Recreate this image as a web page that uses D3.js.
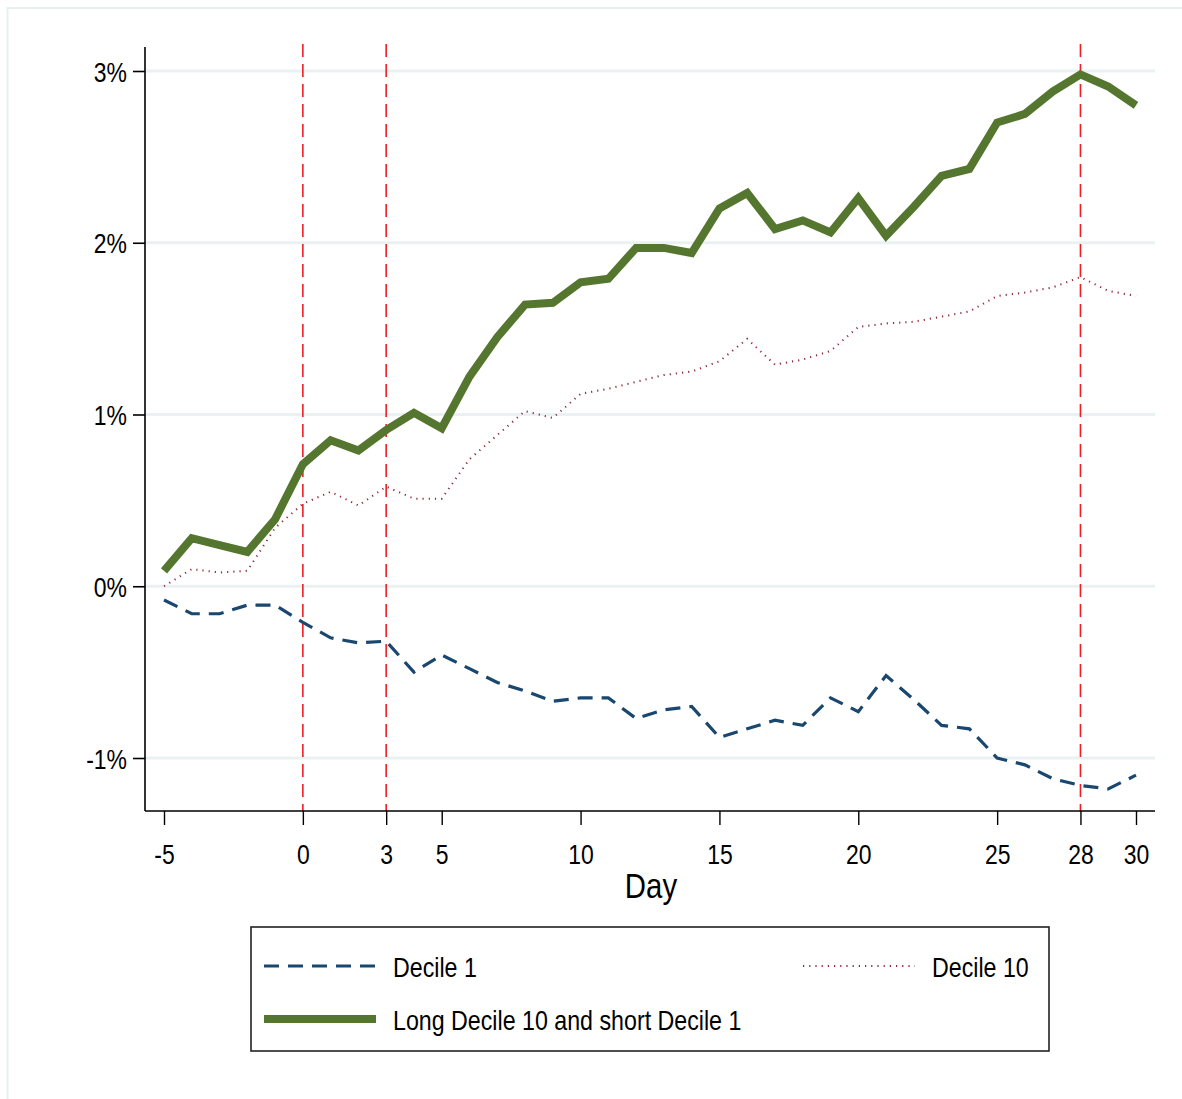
<html>
<head>
<script src="https://d3js.org/d3.v7.min.js"></script>
<style>
  body { margin: 0; background: #fff; }
  text { font-family: "Liberation Sans Narrow", "Arial Narrow", "Liberation Sans", sans-serif; fill: #000; }
</style>
</head>
<body>
<svg width="1182" height="1099"></svg>
<script>
// days from -5 to 30
const days = d3.range(-5, 31);

// cumulative returns, in percent
const decile1 = [-0.08, -0.16, -0.16, -0.11, -0.11, -0.21, -0.30, -0.33, -0.32, -0.50,
  -0.40, -0.48, -0.56, -0.61, -0.67, -0.65, -0.65, -0.77, -0.72, -0.70,
  -0.88, -0.83, -0.78, -0.81, -0.65, -0.73, -0.52, -0.66, -0.81, -0.83,
  -1.00, -1.04, -1.12, -1.16, -1.18, -1.10];
const decile10 = [0.00, 0.10, 0.08, 0.09, 0.34, 0.48, 0.55, 0.47, 0.58, 0.51,
  0.51, 0.74, 0.88, 1.02, 0.98, 1.12, 1.15, 1.19, 1.23, 1.25,
  1.31, 1.44, 1.29, 1.32, 1.37, 1.51, 1.53, 1.54, 1.57, 1.60,
  1.69, 1.71, 1.74, 1.80, 1.72, 1.69];
const longShort = [0.09, 0.28, 0.24, 0.20, 0.39, 0.71, 0.85, 0.79, 0.91, 1.01,
  0.92, 1.22, 1.45, 1.64, 1.65, 1.77, 1.79, 1.97, 1.97, 1.94,
  2.20, 2.29, 2.08, 2.13, 2.06, 2.26, 2.04, 2.21, 2.39, 2.43,
  2.70, 2.75, 2.88, 2.98, 2.91, 2.80];

const xTicks = [-5, 0, 3, 5, 10, 15, 20, 25, 28, 30];
const yTicks = [-1, 0, 1, 2, 3];
const eventDays = [0, 3, 28];

const svg = d3.select('svg');

// no narrow font installed, so squeeze the regular one
const SX = 0.82;

// light outer frame
svg.append('rect')
  .attr('x', 7.5).attr('y', 8).attr('width', 1200).attr('height', 1200)
  .attr('fill', 'none').attr('stroke', '#e9f0f1').attr('stroke-width', 2);

const x = d3.scaleLinear().domain([-5, 30]).range([164, 1136]);
const y = d3.scaleLinear().domain([-1, 3]).range([758, 71]);
const plotL = 145, plotR = 1155, plotT = 47, plotB = 811;

// gridlines
svg.append('g').selectAll('line').data(yTicks).join('line')
  .attr('x1', plotL).attr('x2', plotR)
  .attr('y1', d => y(d)).attr('y2', d => y(d))
  .attr('stroke', '#eaf1f2').attr('stroke-width', 3);

// event lines
svg.append('g').selectAll('line').data(eventDays).join('line')
  .attr('x1', d => x(d)).attr('x2', d => x(d))
  .attr('y1', 44).attr('y2', plotB)
  .attr('stroke', '#f01e23').attr('stroke-width', 1.6)
  .attr('stroke-dasharray', '13,7');

// axes
const yAxis = svg.append('g').attr('transform', `translate(${plotL},0)`)
  .call(d3.axisLeft(y).tickValues(yTicks).tickSize(12).tickFormat(d => d + '%'));
yAxis.select('.domain').remove();
svg.append('line').attr('x1', plotL).attr('x2', plotL).attr('y1', plotT).attr('y2', plotB)
  .attr('stroke', '#000').attr('stroke-width', 1.6);
yAxis.selectAll('.tick line').attr('stroke-width', 1.6);
yAxis.selectAll('.tick text').attr('font-size', 28)
  .attr('x', 0).attr('dy', null)
  .attr('transform', `translate(-18,10) scale(${SX},1)`);

const xAxis = svg.append('g').attr('transform', `translate(0,${plotB})`)
  .call(d3.axisBottom(x).tickValues(xTicks).tickSize(14).tickFormat(d => d));
xAxis.select('.domain').remove();
svg.append('line').attr('x1', plotL).attr('x2', plotR).attr('y1', plotB).attr('y2', plotB)
  .attr('stroke', '#000').attr('stroke-width', 1.6);
xAxis.selectAll('.tick line').attr('stroke-width', 1.4);
xAxis.selectAll('.tick text').attr('font-size', 28)
  .attr('y', 0).attr('dy', null)
  .attr('transform', `translate(0,53) scale(${SX},1)`);

svg.append('text').attr('transform', `translate(651,898) scale(0.84,1)`)
  .attr('text-anchor', 'middle').attr('font-size', 35).text('Day');

// series
const line = d3.line().x((d, i) => x(days[i])).y(d => y(d));

svg.append('path').datum(decile10).attr('d', line)
  .attr('fill', 'none').attr('stroke', '#8e2b3d').attr('stroke-width', 2)
  .attr('stroke-dasharray', '1.2,5');
svg.append('path').datum(decile1).attr('d', line)
  .attr('fill', 'none').attr('stroke', '#1a476f').attr('stroke-width', 3.2)
  .attr('stroke-dasharray', '15,9');
svg.append('path').datum(longShort).attr('d', line)
  .attr('fill', 'none').attr('stroke', '#55762e').attr('stroke-width', 8)
  .attr('stroke-linejoin', 'miter');

// legend
const lg = svg.append('g');
lg.append('rect').attr('x', 251).attr('y', 927).attr('width', 798).attr('height', 124)
  .attr('fill', '#fff').attr('stroke', '#222').attr('stroke-width', 1.6);

const legendItems = [
  { label: 'Decile 1', x0: 264, yy: 966, color: '#1a476f', w: 3.2, dash: '15,9' },
  { label: 'Decile 10', x0: 803, yy: 966, color: '#8e2b3d', w: 2, dash: '1.2,5' },
  { label: 'Long Decile 10 and short Decile 1', x0: 264, yy: 1019, color: '#55762e', w: 8, dash: null }
];
legendItems.forEach(d => {
  lg.append('line').attr('x1', d.x0).attr('x2', d.x0 + 112)
    .attr('y1', d.yy).attr('y2', d.yy)
    .attr('stroke', d.color).attr('stroke-width', d.w)
    .attr('stroke-dasharray', d.dash);
  lg.append('text').attr('transform', `translate(${d.x0 + 129},${d.yy + 11}) scale(0.86,1)`)
    .attr('font-size', 27).text(d.label);
});
</script>
</body>
</html>
